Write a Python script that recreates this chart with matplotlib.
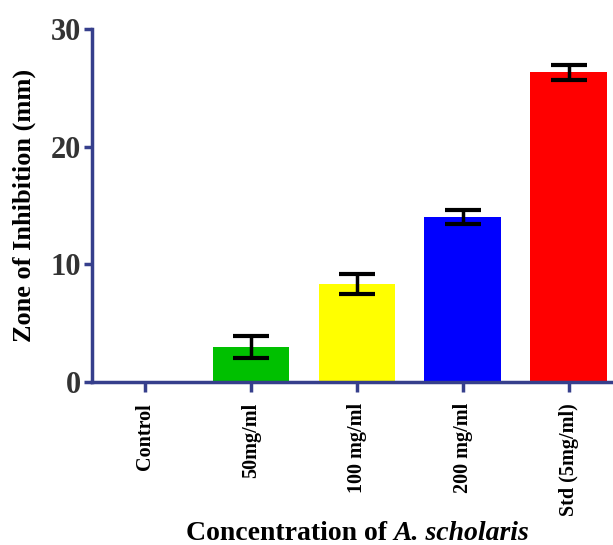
import matplotlib
matplotlib.use("Agg")
import matplotlib.pyplot as plt

groups = ["Control", "50mg/ml", "100 mg/ml", "200 mg/ml", "Std (5mg/ml)"]
zone = [0.0, 3.0, 8.3, 14.0, 26.3]
err = [0.0, 0.95, 0.85, 0.6, 0.6]
colors = ["#ffffff", "#00c000", "#ffff00", "#0000ff", "#ff0000"]

plt.rcParams["font.family"] = ["Liberation Serif", "DejaVu Serif"]
plt.rcParams["font.weight"] = "bold"

axis_col = "#363f8c"

fig = plt.figure(figsize=(6.13, 5.45), dpi=100)
ax = fig.add_axes([0.150, 0.299, 0.85, 0.648])

x = range(len(groups))
ax.bar(x, zone, width=0.72, color=colors)
for i in x:
    if err[i] > 0:
        ax.errorbar(i, zone[i], yerr=err[i], fmt="none", ecolor="black",
                    elinewidth=2.5, capsize=13, capthick=3)

ax.set_xlim(-0.5, 4.42)
ax.set_ylim(0, 30)
ax.set_yticks([0, 10, 20, 30])
ax.set_xticks(list(x))
ax.set_xticklabels(groups, rotation=90, fontsize=14.5, fontweight="bold")
ax.tick_params(axis="y", labelsize=22, labelcolor="#333333", color=axis_col,
               width=2.5, length=6, pad=2)
ax.tick_params(axis="x", color=axis_col, width=2.5, length=7, pad=8)

for side in ["top", "right"]:
    ax.spines[side].set_visible(False)
for side in ["left", "bottom"]:
    ax.spines[side].set_color(axis_col)
    ax.spines[side].set_linewidth(2.5)

ax.set_ylabel("Zone of Inhibition (mm)", fontsize=19, fontweight="bold", labelpad=10)

# x label: normal part + italic species name
t1 = fig.text(0, 0.01, "Concentration of ", ha="left", va="baseline",
              fontsize=20, fontweight="bold")
t2 = fig.text(0, 0.01, "A. scholaris", ha="left", va="baseline",
              fontsize=20, fontweight="bold", fontstyle="italic")
fig.canvas.draw()
r = fig.canvas.get_renderer()
w1 = t1.get_window_extent(r).width / fig.bbox.width
w2 = t2.get_window_extent(r).width / fig.bbox.width
x0 = 0.583 - (w1 + w2) / 2
t1.set_x(x0)
t2.set_x(x0 + w1)

fig.savefig("out.png", dpi=100)
